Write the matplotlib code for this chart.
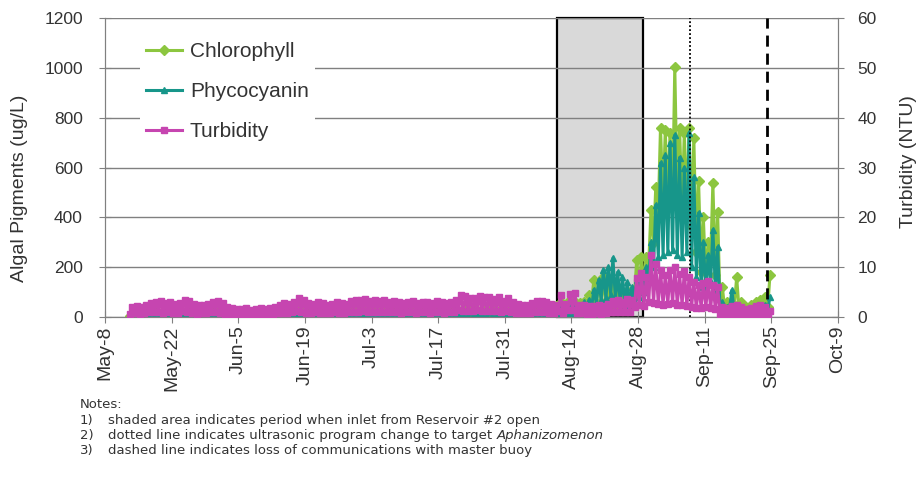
import matplotlib
matplotlib.use('Agg')
import matplotlib.pyplot as plt
import matplotlib.dates as mdates
from matplotlib.patches import Rectangle
import numpy as np
import pandas as pd

plt.rcParams['font.family'] = ['Liberation Sans', 'DejaVu Sans']

# Buoy readings, one low and one high reading per day, May 13 - Sep 24
first_day = '2013-05-13'
last_day = '2013-09-24'

# Turbidity (NTU)
turb_high = [2.0, 2.2, 2.0, 2.5, 2.8,
             3.0, 3.2, 2.8, 3.0, 2.6,
             2.8, 3.4, 3.2, 2.6, 2.4, 2.5, 2.7,
             3.0, 3.3, 2.9, 2.0, 1.8, 1.6,
             1.6, 1.8, 1.5, 1.7, 1.9, 1.6, 1.8, 2.0, 2.4,
             2.8, 2.6, 3.0, 3.8, 3.4,
             2.8, 2.6, 3.0, 2.8, 2.5, 2.7, 3.0,
             2.8, 2.6, 3.2, 3.5, 3.4, 3.6, 3.2, 3.5, 3.3,
             3.4, 3.0, 3.2, 3.1, 2.8, 3.0, 3.3, 2.9, 3.1, 3.0,
             2.9, 3.2, 3.0, 2.8, 3.1,
             3.4, 4.4, 4.2, 3.9, 3.8, 4.3, 4.0,
             4.1, 3.6, 4.0, 3.3, 3.8, 3.0,
             2.6, 2.4, 2.5, 2.8, 3.2,
             3.2, 3.0, 2.6, 2.4, 4.4,
             2.6, 4.6, 4.8, 2.5, 2.4,
             2.3, 2.2, 2.4, 2.3, 2.6, 3.2,
             3.4, 3.0, 3.6, 3.4, 7.8,
             8.8, 8.0, 12.4, 10.6, 9.4, 8.5,
             9.5, 10.0, 8.6, 9.2, 8.0,
             7.0, 6.5, 6.8, 7.2, 6.4, 6.0,
             2.0, 1.8, 2.2, 2.4, 2.0,
             1.6, 1.8, 2.2, 2.4, 2.0, 1.2]
turb_low = [0.6, 0.8, 0.7, 0.9, 1.0,
            1.0, 1.1, 0.9, 1.0, 0.8,
            0.9, 1.2, 1.0, 0.8, 0.7, 0.8, 0.9,
            1.0, 1.1, 0.9, 0.6, 0.5, 0.5,
            0.5, 0.6, 0.5, 0.6, 0.6, 0.5, 0.6, 0.7, 0.8,
            0.9, 0.8, 1.0, 1.2, 1.1,
            0.9, 0.8, 1.0, 0.9, 0.8, 0.9, 1.0,
            0.9, 0.8, 1.0, 1.1, 1.1, 1.2, 1.0, 1.1, 1.0,
            1.1, 1.0, 1.0, 1.0, 0.9, 1.0, 1.1, 0.9, 1.0, 1.0,
            0.9, 1.0, 1.0, 0.9, 1.0,
            1.1, 1.4, 1.3, 1.2, 1.2, 1.4, 1.3,
            1.3, 1.2, 1.3, 1.1, 1.2, 1.0,
            0.8, 0.8, 0.8, 0.9, 1.0,
            1.0, 1.0, 0.8, 0.8, 1.2,
            0.8, 1.4, 1.4, 0.8, 0.8,
            0.7, 0.7, 0.8, 0.7, 0.8, 1.0,
            1.1, 1.0, 1.1, 1.1, 2.0,
            2.4, 2.2, 3.0, 2.8, 2.6, 2.4,
            2.6, 2.8, 2.4, 2.5, 2.2,
            2.0, 1.8, 1.9, 2.0, 1.8, 1.6,
            0.6, 0.5, 0.6, 0.7, 0.6,
            0.5, 0.5, 0.6, 0.7, 0.6, 0.4]

# Chlorophyll (ug/L)
chl_high = [15, 18, 16, 20, 22, 20, 18, 22, 25, 20,
            18, 22, 24, 20, 18, 20, 22, 25, 24, 20,
            18, 16, 15, 16, 18, 15, 16, 18, 16, 18,
            20, 22, 24, 22, 25, 28, 26, 22, 20, 24,
            22, 20, 22, 24, 22, 20, 24, 26, 25, 28,
            25, 26, 24, 26, 24, 25, 24, 22, 24, 26,
            22, 24, 23, 22, 24, 24, 26, 25, 24, 26,
            28, 30, 28, 26, 28, 30, 28, 26, 28, 25,
            24, 22, 24, 26, 28, 30,
            30, 35, 40, 45, 60,
            50, 70, 60, 55, 60,
            90, 150, 140, 160, 130, 110,
            120, 100, 90, 110, 230,
            240, 240, 430, 520, 760, 750, 740, 1005, 760, 740, 760,
            720, 545, 400, 300, 537, 420,
            120, 60, 40, 160, 60,
            40, 50, 60, 70, 80, 170]
chl_low = [5, 6, 5, 6, 7, 6, 6, 7, 8, 6,
           6, 7, 8, 6, 6, 6, 7, 8, 8, 6,
           6, 5, 5, 5, 6, 5, 5, 6, 5, 6,
           6, 7, 8, 7, 8, 9, 8, 7, 6, 8,
           7, 6, 7, 8, 7, 6, 8, 8, 8, 9,
           8, 8, 8, 8, 8, 8, 8, 7, 8, 8,
           7, 8, 7, 7, 8, 8, 8, 8, 8, 8,
           9, 10, 9, 8, 9, 10, 9, 8, 9, 8,
           8, 7, 8, 8, 9, 10,
           10, 12, 14, 15, 20,
           18, 25, 20, 18, 20,
           30, 60, 55, 60, 50, 40,
           45, 35, 30, 40, 90,
           110, 130, 220, 300, 430, 450, 440, 470, 450, 430, 420,
           360, 260, 180, 140, 230, 170,
           30, 20, 15, 50, 20,
           15, 15, 20, 25, 25, 40]

# Phycocyanin (ug/L)
phyco_high = [10, 12, 11, 14, 15, 14, 12, 14, 16, 13,
              12, 14, 15, 13, 12, 13, 14, 16, 15, 13,
              12, 11, 10, 11, 12, 10, 11, 12, 11, 12,
              13, 14, 15, 14, 16, 18, 17, 14, 13, 15,
              14, 13, 14, 15, 14, 13, 15, 17, 16, 18,
              16, 17, 15, 17, 15, 16, 15, 14, 15, 17,
              14, 15, 15, 14, 15, 15, 17, 16, 15, 17,
              18, 20, 18, 17, 18, 20, 18, 17, 18, 16,
              15, 14, 40, 18, 45, 20,
              20, 25, 30, 35, 40,
              40, 50, 45, 40, 60,
              70, 110, 150, 190, 200, 237,
              180, 160, 140, 120, 150,
              170, 200, 300, 450, 618, 650, 700, 730, 640, 600, 740,
              560, 418, 300, 250, 350, 280,
              60, 40, 108, 40, 30,
              25, 30, 35, 40, 50, 80]
phyco_low = [3, 4, 3, 4, 5, 4, 4, 4, 5, 4,
             4, 4, 5, 4, 4, 4, 4, 5, 5, 4,
             4, 3, 3, 3, 4, 3, 3, 4, 3, 4,
             4, 4, 5, 4, 5, 6, 5, 4, 4, 5,
             4, 4, 4, 5, 4, 4, 5, 5, 5, 6,
             5, 5, 5, 5, 5, 5, 5, 4, 5, 5,
             4, 5, 5, 4, 5, 5, 5, 5, 5, 5,
             6, 6, 6, 5, 6, 6, 6, 5, 6, 5,
             5, 4, 8, 5, 9, 6,
             6, 8, 10, 12, 14,
             14, 18, 16, 14, 20,
             25, 40, 55, 70, 75, 90,
             70, 60, 50, 45, 60,
             80, 100, 150, 200, 240, 250, 260, 270, 250, 240, 260,
             200, 160, 120, 100, 140, 110,
             20, 15, 40, 15, 10,
             8, 10, 12, 15, 18, 30]

# Event dates
inlet_open = ['2013-08-11', '2013-08-29']
program_change = '2013-09-08'
comms_lost = '2013-09-24'

tick_dates = pd.date_range('2013-05-08', '2013-10-09', freq='14D')


def daily_series(low, high):
    days = pd.date_range(first_day, last_day, freq='D')
    t = []
    v = []
    for d, lo, hi in zip(days, low, high):
        t += [d + pd.Timedelta(hours=6), d + pd.Timedelta(hours=17)]
        v += [lo, hi]
    return t, v


c_chl = '#8cc63f'
c_phy = '#17968a'
c_turb = '#c645b0'
gray = '#808080'
txt = '#333333'

fig = plt.figure(figsize=(9.2, 4.78), dpi=100)
ax = fig.add_axes([105 / 920, 1 - 317 / 478, 733 / 920, 299 / 478])
ax2 = ax.twinx()

# shaded period, under everything else
x0 = mdates.date2num(pd.Timestamp(inlet_open[0]))
x1 = mdates.date2num(pd.Timestamp(inlet_open[1]))
ax.add_patch(Rectangle((x0, 0), x1 - x0, 1200, facecolor='#d9d9d9', edgecolor='black',
                       lw=1.6, zorder=1, clip_on=False))

lw = 2.2
t, v = daily_series(chl_low, chl_high)
ax.plot(t, v, color=c_chl, marker='D', markersize=5, lw=lw, label='Chlorophyll', zorder=3)
t, v = daily_series(phyco_low, phyco_high)
ax.plot(t, v, color=c_phy, marker='^', markersize=4.5, lw=lw, label='Phycocyanin', zorder=4)
t, v = daily_series(turb_low, turb_high)
ax2.plot(t, v, color=c_turb, marker='s', markersize=4.5, lw=lw, label='Turbidity', zorder=3)

ax2.axvline(pd.Timestamp(program_change), color='black', ls=(0, (1, 1.2)), lw=1.3)
ax2.axvline(pd.Timestamp(comms_lost), color='black', ls=(0, (4, 2.5)), lw=2)

ax.set_xlim(pd.Timestamp('2013-05-08'), pd.Timestamp('2013-10-09'))
ax.set_ylim(0, 1200)
ax2.set_ylim(0, 60)
ax.set_yticks(range(0, 1201, 200))
ax2.set_yticks(range(0, 61, 10))
ax.set_xticks(tick_dates)
ax.set_xticklabels([f'{d:%b}-{d.day}' for d in tick_dates], rotation=90)

ax.yaxis.grid(True, color=gray, lw=1)
for a in (ax, ax2):
    a.spines['top'].set_visible(False)
    for s in ('left', 'right', 'bottom'):
        a.spines[s].set_color(gray)
    a.tick_params(direction='inout', length=8, color=gray, labelsize=12.5, labelcolor=txt)
ax.tick_params(axis='x', labelsize=14, pad=2)
ax.tick_params(axis='y', pad=12)
ax2.tick_params(axis='y', pad=10)

ax.set_ylabel('Algal Pigments (ug/L)', fontsize=14, color=txt)
ax.yaxis.set_label_coords((28 - 105) / 733, (317 - 188) / 299)
ax2.set_ylabel('Turbidity (NTU)', fontsize=14, color=txt)
ax2.yaxis.set_label_coords((900 - 105) / 733, (317 - 162) / 299)

handles = ax.get_lines()[:2] + ax2.get_lines()[:1]
leg = ax2.legend(handles, [h.get_label() for h in handles], loc='upper left',
                 bbox_to_anchor=(140 / 920, 1 - 36 / 478), bbox_transform=fig.transFigure,
                 fontsize=15, labelspacing=1.0, handlelength=1.7, handletextpad=0.4,
                 frameon=True, framealpha=1, edgecolor='none', borderpad=0.3,
                 borderaxespad=0)
for text in leg.get_texts():
    text.set_color(txt)

# notes below the chart
note_font = dict(fontsize=9.5, family='DejaVu Sans', va='center', color=txt)
fig.text(80 / 920, 1 - 405 / 478, 'Notes:', **note_font)
notes = ['shaded area indicates period when inlet from Reservoir #2 open',
         'dotted line indicates ultrasonic program change to target ',
         'dashed line indicates loss of communications with master buoy']
ys = [420.5, 435.5, 450.5]
note_texts = []
for i, (n, y) in enumerate(zip(notes, ys)):
    fig.text(80 / 920, 1 - y / 478, f'{i + 1})', **note_font)
    note_texts.append(fig.text(108 / 920, 1 - y / 478, n, **note_font))

fig.canvas.draw()
bb = note_texts[1].get_window_extent()
fig.text(bb.x1 / fig.bbox.width, 1 - ys[1] / 478, 'Aphanizomenon', style='italic', **note_font)

fig.savefig('out.png', dpi=100)
